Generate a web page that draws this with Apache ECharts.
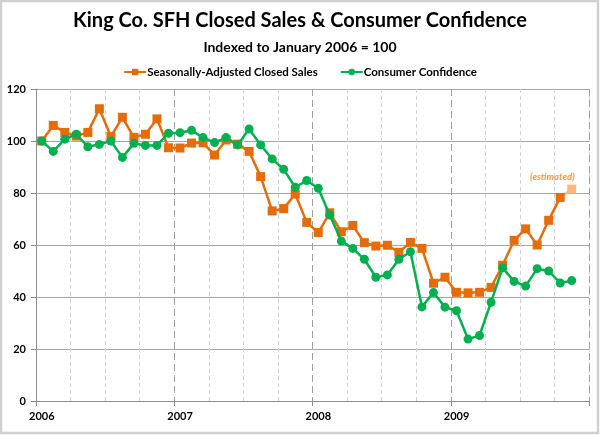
<!DOCTYPE html>
<html>
<head>
<meta charset="utf-8">
<script src="https://cdn.jsdelivr.net/npm/echarts@6/dist/echarts.min.js"></script>
<style>
html,body{margin:0;padding:0;background:#fff;}
#chart{width:600px;height:435px;}
</style>
</head>
<body>
<div id="chart"></div>
<script>
// ---- data ----
const years = ['2006', '2007', '2008', '2009'];
const monthNames = ['Jan','Feb','Mar','Apr','May','Jun','Jul','Aug','Sep','Oct','Nov','Dec'];
const months = [];
years.forEach(y => monthNames.forEach(m => months.push(m + ' ' + y)));

const closedSales = [100, 106.0, 103.3, 101.9, 103.3, 112.4, 101.7, 109.1, 101.4, 102.6, 108.5, 97.4,
  97.3, 99.2, 99.3, 94.6, 100.4, 98.8, 96.0, 86.3, 73.1, 74.0, 79.6, 68.7,
  64.8, 72.4, 65.1, 67.5, 60.9, 59.6, 59.9, 57.2, 61.0, 58.7, 45.3, 47.6,
  41.8, 41.6, 41.8, 43.7, 52.2, 61.8, 66.2, 60.0, 69.5, 78.3, 81.5];
const estimatedFrom = 45; // last point (index 46) is estimated

const consumerConfidence = [100, 96.0, 100.7, 102.6, 97.8, 98.7, 100.0, 93.7, 99.1, 98.3, 98.3, 103.0,
  103.2, 104.1, 101.3, 99.4, 101.3, 98.5, 104.6, 98.5, 93.1, 89.1, 82.2, 84.8,
  81.8, 71.5, 61.5, 58.7, 54.5, 47.6, 48.5, 54.5, 57.4, 36.2, 41.7, 36.1,
  34.7, 23.8, 25.2, 38.0, 51.2, 46.0, 44.2, 50.9, 50.0, 45.4, 46.3];

const yTicks = [0, 20, 40, 60, 80, 100, 120];

// ---- chart ----
const FONT = 'Lato, "Open Sans", sans-serif';
const ORANGE = '#E46C0A';
const LIGHT_ORANGE = '#F9B882';
const GREEN = '#00B050';

const salesMain = closedSales.map((v, i) => i <= estimatedFrom ? v : null);
const salesEst = closedSales.map((v, i) => {
  if (i < estimatedFrom) return null;
  if (i === estimatedFrom) return { value: v, symbol: 'none' };
  return {
    value: v,
    label: {
      show: true, formatter: '(estimated)', position: 'top', align: 'right',
      offset: [3, 2], color: '#F79646', fontStyle: 'italic', fontWeight: 'bold', fontSize: 9.5, fontFamily: FONT
    }
  };
});

const chart = echarts.init(document.getElementById('chart'), null, { renderer: 'canvas' });
chart.setOption({
  animation: false,
  backgroundColor: '#fff',
  title: [
    { text: 'King Co. SFH Closed Sales & Consumer Confidence', left: 'center', top: 6,
      textStyle: { fontFamily: FONT, fontSize: 20, fontWeight: 'bold', color: '#000' } },
    { text: 'Indexed to January 2006 = 100', left: 'center', top: 35,
      textStyle: { fontFamily: FONT, fontSize: 14, fontWeight: 'bold', color: '#000' } }
  ],
  legend: {
    top: 61, left: 'center', itemWidth: 22, itemHeight: 8, itemGap: 22,
    data: ['Seasonally-Adjusted Closed Sales', 'Consumer Confidence'],
    textStyle: { fontFamily: FONT, fontSize: 11.5, fontWeight: 'bold', color: '#000', padding: [0,0,0,-4] }
  },
  grid: { left: 36, right: 11, top: 89, bottom: 34, containLabel: false },
  xAxis: [
    {
      type: 'category', data: months, boundaryGap: true,
      axisLine: { show: true, lineStyle: { color: '#8c8c8c', width: 1 } },
      axisTick: { show: true, interval: 11, length: 5, lineStyle: { color: '#8c8c8c' } },
      axisLabel: { interval: 11, formatter: v => v.slice(-4), margin: 10,
        fontFamily: FONT, fontSize: 11, fontWeight: 'bold', color: '#000' },
      splitLine: { show: true, interval: (i) => i % 3 === 0 && i % 12 !== 0,
        lineStyle: { color: '#d4d4d4', type: [4, 3], width: 1 } }
    },
    {
      type: 'category', data: months, boundaryGap: true, position: 'bottom',
      axisLine: { show: false }, axisTick: { show: false }, axisLabel: { show: false },
      splitLine: { show: true, interval: 11,
        lineStyle: { color: '#a0a0a0', type: [7, 4], width: 1 } }
    }
  ],
  yAxis: {
    type: 'value', min: yTicks[0], max: yTicks[yTicks.length - 1], interval: 20,
    axisLine: { show: true, lineStyle: { color: '#8c8c8c' } },
    axisTick: { show: true, length: 5, lineStyle: { color: '#8c8c8c' } },
    axisLabel: { margin: 10, fontFamily: FONT, fontSize: 11, fontWeight: 'bold', color: '#000' },
    splitLine: { show: true, lineStyle: { color: '#a6a6a6', width: 1 } }
  },
  series: [
    {
      name: 'Seasonally-Adjusted Closed Sales', type: 'line', data: salesMain,
      symbol: 'rect', symbolSize: 9, showAllSymbol: true,
      itemStyle: { color: ORANGE }, lineStyle: { color: ORANGE, width: 2.5 }, z: 3
    },
    {
      name: 'estimated', type: 'line', data: salesEst,
      symbol: 'rect', symbolSize: 9, showAllSymbol: true,
      itemStyle: { color: LIGHT_ORANGE }, lineStyle: { color: LIGHT_ORANGE, width: 2.5 }, z: 2
    },
    {
      name: 'Consumer Confidence', type: 'line', data: consumerConfidence,
      symbol: 'circle', symbolSize: 9, showAllSymbol: true,
      itemStyle: { color: GREEN }, lineStyle: { color: GREEN, width: 2.5 }, z: 4
    }
  ],
  graphic: [
    { type: 'rect', shape: { x: 1, y: 1, width: 597, height: 432 }, silent: true,
      style: { fill: null, stroke: '#d0d0d0', lineWidth: 2.5 } }
  ]
});
</script>
</body>
</html>
